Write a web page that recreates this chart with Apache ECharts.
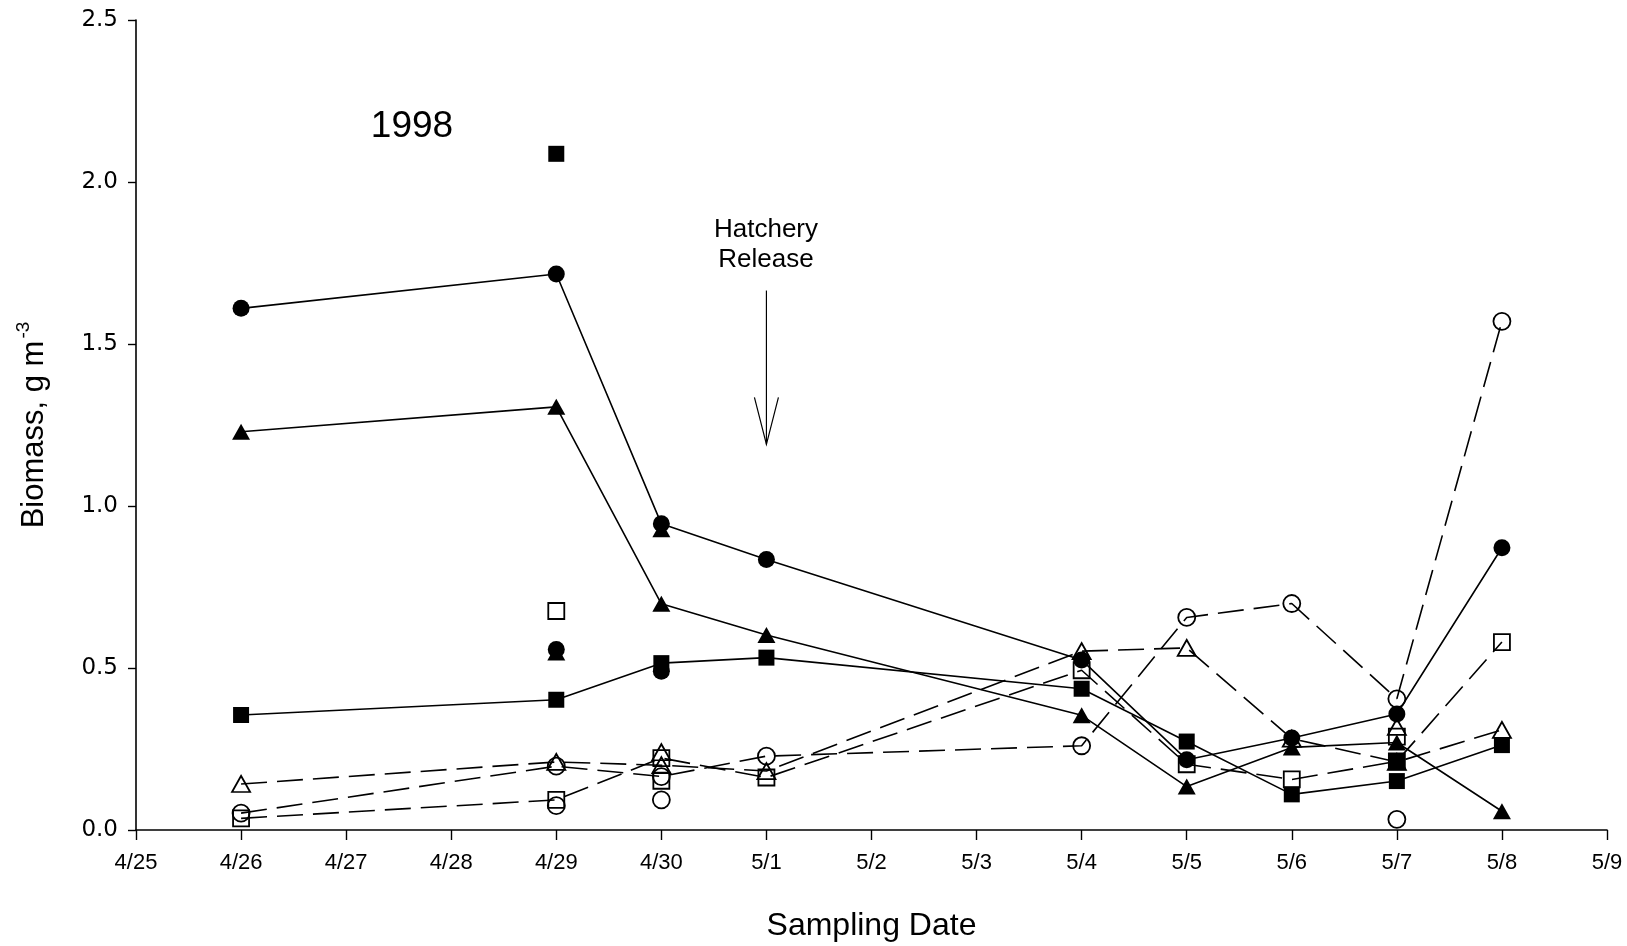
<!DOCTYPE html>
<html>
<head>
<meta charset="utf-8">
<script src="https://cdn.jsdelivr.net/npm/echarts@6/dist/echarts.min.js"></script>
<style>
  html, body { margin: 0; padding: 0; background: #ffffff; }
  #chart { width: 1627px; height: 946px; }
</style>
</head>
<body>
<div id="chart"></div>
<script>
// Day index 0 = 4/25 ... 14 = 5/9
const dayLabels = ['4/25', '4/26', '4/27', '4/28', '4/29', '4/30', '5/1', '5/2', '5/3', '5/4', '5/5', '5/6', '5/7', '5/8', '5/9'];
const yTickValues = [0, 0.5, 1.0, 1.5, 2.0, 2.5];

// Sampling days joined by the lines
const sampleDays = [1, 4, 5, 6, 9, 10, 11, 12, 13];

// Connected series (biomass, g m^-3)
const filledCircle   = [1.610, 1.716, 0.945, 0.835, 0.525, 0.217, 0.284, 0.358, 0.871];
const filledTriangle = [1.229, 1.306, 0.698, 0.602, 0.354, 0.134, 0.255, 0.270, 0.058];
const filledSquare   = [0.355, 0.402, 0.515, 0.532, 0.436, 0.273, 0.110, 0.151, 0.262];
const openCircle     = [0.052, 0.197, 0.165, 0.228, 0.260, 0.656, 0.699, 0.405, 1.570];
const openTriangle   = [0.142, 0.210, 0.200, 0.182, 0.552, 0.562, 0.282, 0.210, 0.309];
const openSquare     = [0.036, 0.093, 0.222, 0.162, 0.493, 0.203, 0.156, 0.212, 0.580];

// Individual samples not joined by lines: [day, value]
const filledCircleOther   = [[4, 0.557], [5, 0.490]];
const filledTriangleOther = [[4, 0.548], [5, 0.928]];
const filledSquareOther   = [[4, 2.087], [12, 0.210]];
const openCircleOther     = [[4, 0.075], [5, 0.093], [12, 0.033]];
const openTriangleOther   = [[5, 0.240], [12, 0.318]];
const openSquareOther     = [[4, 0.676], [5, 0.152], [12, 0.288]];

// Hatchery release arrow (day, top value, tip value)
const releaseDay = 6;
const releaseArrow = [1.665, 1.19];

const FONT = '"Liberation Sans", Arial, Helvetica, sans-serif';
const WIDE_FONT = '"DejaVu Sans", Verdana, sans-serif';
const DASH = [26, 10];

const marks = {
  circle:   { symbol: 'circle',   size: 17 },
  triangle: { symbol: 'triangle', size: [18, 16] },
  square:   { symbol: 'rect',     size: 16 }
};

function pairs(values) {
  return sampleDays.map((d, i) => [d, values[i]]);
}

function markStyle(filled) {
  return filled
    ? { color: '#000', borderColor: '#000', borderWidth: 0, opacity: 1 }
    : { color: 'rgba(255,255,255,0)', borderColor: '#000', borderWidth: 1.8, opacity: 1 };
}

function lineSeries(values, shape, filled, dashed, z) {
  return {
    type: 'line',
    data: pairs(values),
    symbol: marks[shape].symbol,
    symbolSize: marks[shape].size,
    showSymbol: true,
    showAllSymbol: true,
    z: z,
    itemStyle: markStyle(filled),
    lineStyle: { color: '#000', width: 1.6, type: dashed ? DASH : 'solid', opacity: 1 },
    emphasis: { disabled: true },
    silent: true
  };
}

function pointSeries(points, shape, filled, z) {
  return {
    type: 'scatter',
    data: points,
    symbol: marks[shape].symbol,
    symbolSize: marks[shape].size,
    z: z,
    itemStyle: markStyle(filled),
    emphasis: { disabled: true },
    silent: true
  };
}

const chart = echarts.init(document.getElementById('chart'), null, { renderer: 'canvas' });

const option = {
  animation: false,
  backgroundColor: '#ffffff',
  grid: { left: 136, right: 20, top: 20, bottom: 116, containLabel: false, outerBoundsMode: 'none' },
  xAxis: {
    type: 'value',
    min: 0,
    max: dayLabels.length - 1,
    interval: 1,
    splitLine: { show: false },
    axisLine: { onZero: false, lineStyle: { color: '#000', width: 1.6 } },
    axisTick: { show: true, inside: false, length: 10, lineStyle: { color: '#000', width: 1.4 } },
    axisLabel: {
      color: '#000', fontFamily: FONT, fontSize: 22, margin: 22,
      formatter: v => dayLabels[Math.round(v)] || ''
    },
    name: 'Sampling Date',
    nameLocation: 'middle',
    nameGap: 80,
    nameTextStyle: { color: '#000', fontFamily: FONT, fontSize: 32 }
  },
  yAxis: {
    type: 'value',
    min: yTickValues[0],
    max: yTickValues[yTickValues.length - 1],
    interval: 0.5,
    splitLine: { show: false },
    axisLine: { show: true, lineStyle: { color: '#000', width: 1.6 } },
    axisTick: { show: true, inside: false, length: 8, lineStyle: { color: '#000', width: 1.4 } },
    axisLabel: {
      color: '#000', fontFamily: WIDE_FONT, fontSize: 23, margin: 18,
      formatter: v => v.toFixed(1)
    },
    name: '{a|Biomass, g m}{b|-3}',
    nameLocation: 'middle',
    nameRotate: 90,
    nameGap: 86,
    nameTextStyle: {
      color: '#000',
      rich: {
        a: { fontFamily: FONT, fontSize: 31, lineHeight: 36, color: '#000', verticalAlign: 'bottom' },
        b: { fontFamily: FONT, fontSize: 19, lineHeight: 36, color: '#000', verticalAlign: 'top', padding: [0, 0, 14, 2] }
      }
    }
  },
  graphic: [
    {
      type: 'text', x: 412, y: 127, z: 100,
      style: { text: '1998', fill: '#000', font: '37px ' + FONT, align: 'center', verticalAlign: 'middle' }
    },
    {
      type: 'text', x: 766, y: 245, z: 100,
      style: { text: 'Hatchery\nRelease', fill: '#000', font: '26px ' + FONT, lineHeight: 30, align: 'center', verticalAlign: 'middle' }
    }
  ],
  series: [
    lineSeries(openTriangle, 'triangle', false, true, 2),
    lineSeries(openSquare,   'square',   false, true, 2),
    lineSeries(openCircle,   'circle',   false, true, 2),
    pointSeries(openTriangleOther, 'triangle', false, 2),
    pointSeries(openSquareOther,   'square',   false, 2),
    pointSeries(openCircleOther,   'circle',   false, 2),
    lineSeries(filledTriangle, 'triangle', true, false, 3),
    lineSeries(filledCircle,   'circle',   true, false, 3),
    lineSeries(filledSquare,   'square',   true, false, 3),
    pointSeries(filledTriangleOther, 'triangle', true, 3),
    pointSeries(filledCircleOther,   'circle',   true, 3),
    pointSeries(filledSquareOther,   'square',   true, 3),
    {
      // arrow marking the hatchery release date
      type: 'custom',
      silent: true,
      z: 4,
      data: [[releaseDay, releaseArrow[0], releaseArrow[1]]],
      renderItem: function (params, api) {
        const top = api.coord([api.value(0), api.value(1)]);
        const tip = api.coord([api.value(0), api.value(2)]);
        return {
          type: 'group',
          children: [
            { type: 'line', shape: { x1: top[0], y1: top[1], x2: tip[0], y2: tip[1] },
              style: { stroke: '#000', lineWidth: 1.2 } },
            { type: 'polyline', shape: { points: [[tip[0] - 12, tip[1] - 47], [tip[0], tip[1]], [tip[0] + 12, tip[1] - 47]] },
              style: { stroke: '#000', fill: null, lineWidth: 1.2 } }
          ]
        };
      }
    }
  ]
};

chart.setOption(option);
</script>
</body>
</html>
